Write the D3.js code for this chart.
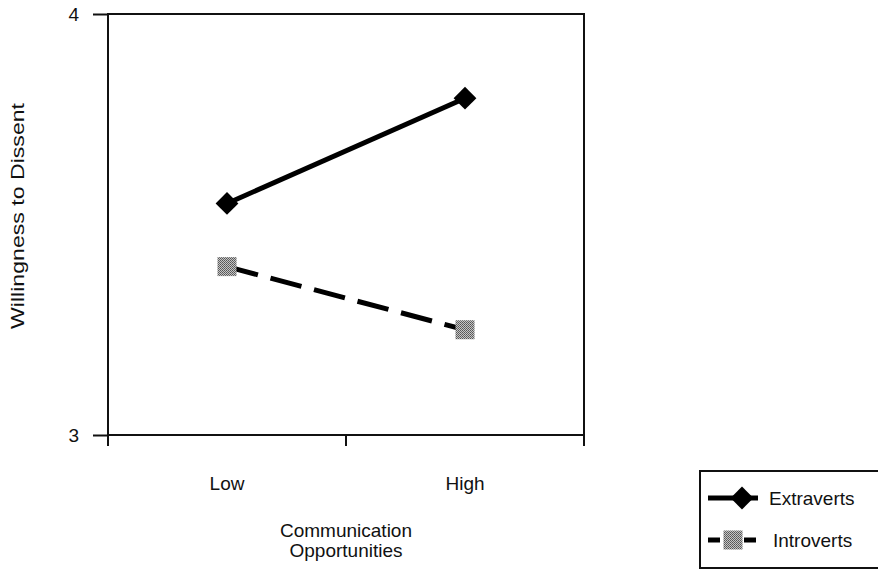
<!DOCTYPE html>
<html>
<head>
<meta charset="utf-8">
<script src="https://cdn.jsdelivr.net/npm/d3@7"></script>
<style>
  body { margin: 0; background: #fff; }
  svg text { font-family: "Liberation Sans", Arial, sans-serif; fill: #111; }
</style>
</head>
<body>
<div id="chart"></div>
<script>
// data
var categories = ["Low", "High"];
var seriesNames = ["Extraverts", "Introverts"];
var extraverts = [3.55, 3.80];
var introverts = [3.40, 3.25];
var yTicks = [3, 4];

var svgWidth = 878, svgHeight = 569;
var margin = { top: 14, right: 294, bottom: 134, left: 108 };

var svg = d3.select("#chart").append("svg")
  .attr("width", svgWidth)
  .attr("height", svgHeight);

// dithered grey for the square markers
var pat = svg.append("defs").append("pattern")
  .attr("id", "dither")
  .attr("width", 2).attr("height", 2)
  .attr("patternUnits", "userSpaceOnUse");
pat.append("rect").attr("width", 2).attr("height", 2).attr("fill", "#c4c4c4");
pat.append("rect").attr("width", 1).attr("height", 1).attr("fill", "#555");
pat.append("rect").attr("x", 1).attr("y", 1).attr("width", 1).attr("height", 1).attr("fill", "#666");

var x = d3.scaleBand()
  .domain(categories)
  .range([margin.left, svgWidth - margin.right]);

var y = d3.scaleLinear()
  .domain([3, 4])
  .range([svgHeight - margin.bottom, margin.top]);

// frame
svg.append("rect")
  .attr("x", margin.left)
  .attr("y", margin.top)
  .attr("width", x.range()[1] - x.range()[0])
  .attr("height", y(3) - y(4))
  .attr("fill", "none")
  .attr("stroke", "#111")
  .attr("stroke-width", 2);

// y axis
var yAxis = d3.axisLeft(y).tickValues(yTicks).tickFormat(d3.format("d"))
  .tickSize(15).tickPadding(14);
var gy = svg.append("g")
  .attr("transform", "translate(" + margin.left + ",0)")
  .call(yAxis);
gy.select(".domain").remove();
gy.selectAll("line").attr("stroke", "#111").attr("stroke-width", 2);
gy.selectAll("text").style("font-size", "19px");

// x axis: labels at band centres, ticks at band edges
var xAxis = d3.axisBottom(x).tickSize(0).tickPadding(42);
var gx = svg.append("g")
  .attr("transform", "translate(0," + y(3) + ")")
  .call(xAxis);
gx.select(".domain").remove();
gx.selectAll("text").style("font-size", "19px");

var edges = categories.map(function (c) { return x(c); }).concat([x.range()[1]]);
svg.selectAll(".xtick")
  .data(edges)
  .enter().append("line")
  .attr("class", "xtick")
  .attr("x1", function (d) { return d; })
  .attr("x2", function (d) { return d; })
  .attr("y1", y(3))
  .attr("y2", y(3) + 11)
  .attr("stroke", "#111")
  .attr("stroke-width", 2);

// axis titles
svg.append("text")
  .attr("transform", "translate(24,216) rotate(-90)")
  .attr("text-anchor", "middle")
  .attr("textLength", 226)
  .attr("lengthAdjust", "spacingAndGlyphs")
  .style("font-size", "19px")
  .text("Willingness to Dissent");

var cx = (x.range()[0] + x.range()[1]) / 2;
svg.append("text")
  .attr("x", cx).attr("y", 537)
  .attr("text-anchor", "middle")
  .style("font-size", "19px")
  .text("Communication");
svg.append("text")
  .attr("x", cx).attr("y", 557)
  .attr("text-anchor", "middle")
  .style("font-size", "19px")
  .text("Opportunities");

// lines
var line = d3.line()
  .x(function (d, i) { return x(categories[i]) + x.bandwidth() / 2; })
  .y(function (d) { return y(d); });

svg.append("path")
  .datum(extraverts)
  .attr("d", line)
  .attr("fill", "none")
  .attr("stroke", "#000")
  .attr("stroke-width", 5);

svg.append("path")
  .datum(introverts)
  .attr("d", line)
  .attr("fill", "none")
  .attr("stroke", "#000")
  .attr("stroke-width", 5)
  .attr("stroke-dasharray", "32,13");

var diamond = d3.symbol().type(d3.symbolSquare).size(260);
svg.selectAll(".mE")
  .data(extraverts)
  .enter().append("path")
  .attr("class", "mE")
  .attr("d", diamond)
  .attr("fill", "#000")
  .attr("transform", function (d, i) {
    return "translate(" + (x(categories[i]) + x.bandwidth() / 2) + "," + y(d) + ") rotate(45)";
  });

var sq = 19;
svg.selectAll(".mI")
  .data(introverts)
  .enter().append("rect")
  .attr("class", "mI")
  .attr("x", function (d, i) { return x(categories[i]) + x.bandwidth() / 2 - sq / 2; })
  .attr("y", function (d) { return y(d) - sq / 2; })
  .attr("width", sq).attr("height", sq)
  .attr("fill", "url(#dither)");

// legend
var lg = svg.append("g");
lg.append("rect")
  .attr("x", 700).attr("y", 471)
  .attr("width", 190).attr("height", 97)
  .attr("fill", "#fff")
  .attr("stroke", "#111")
  .attr("stroke-width", 2);

var legendY = [498, 540];
lg.append("line")
  .attr("x1", 708).attr("x2", 758)
  .attr("y1", legendY[0]).attr("y2", legendY[0])
  .attr("stroke", "#000").attr("stroke-width", 5);
lg.append("path")
  .attr("d", diamond)
  .attr("fill", "#000")
  .attr("transform", "translate(742," + legendY[0] + ") rotate(45)");
lg.append("line")
  .attr("x1", 708).attr("x2", 758)
  .attr("y1", legendY[1]).attr("y2", legendY[1])
  .attr("stroke", "#000").attr("stroke-width", 5)
  .attr("stroke-dasharray", "12,6");
lg.append("rect")
  .attr("x", 733 - sq / 2).attr("y", legendY[1] - sq / 2)
  .attr("width", sq).attr("height", sq)
  .attr("fill", "url(#dither)");

lg.selectAll(".lt")
  .data(seriesNames)
  .enter().append("text")
  .attr("class", "lt")
  .attr("x", function (d, i) { return i === 0 ? 769 : 773; })
  .attr("y", function (d, i) { return legendY[i] + 7; })
  .style("font-size", "19px")
  .text(function (d) { return d; });
</script>
</body>
</html>
